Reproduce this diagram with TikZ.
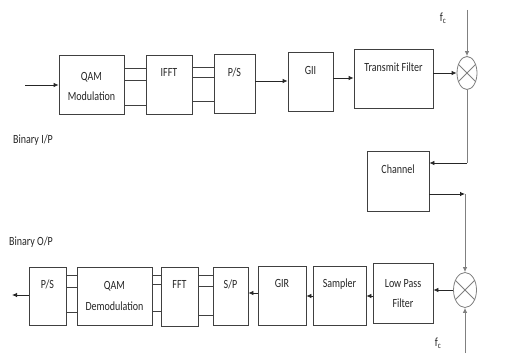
\documentclass[tikz,border=0pt]{standalone}
\usepackage{fontspec}
\setmainfont{Carlito}
\usetikzlibrary{arrows.meta,shapes.geometric}
\newcommand\tx[1]{\scalebox{1}[1.25]{#1}}
\tikzset{
  blk/.style={draw=black!75, line width=0.8pt, inner xsep=0pt, inner ysep=0pt, anchor=north, align=center,
              font=\fontsize{10}{12}\selectfont, text=black!85},
  lbl/.style={inner sep=0pt, font=\fontsize{10}{12}\selectfont, text=black!85},
  arr/.style={-{Latex[length=5pt,width=4.5pt]}, line width=0.8pt, draw=black!85},
  garr/.style={-{Latex[length=5pt,width=4.5pt]}, line width=0.8pt, draw=black!50},
  gline/.style={line width=0.8pt, draw=black!50},
  par/.style={line width=0.8pt, draw=black!75},
  mix/.style={ellipse, draw=black!50, line width=0.8pt, inner sep=0pt}
}
\begin{document}
\begin{tikzpicture}[x=1pt,y=-1pt]
\useasboundingbox (0,0) rectangle (529,353);
% top row
\node[blk, minimum width=65pt, text height=45pt, text depth=14pt] (qam) at (91.5,55) {\tx{QAM}\\[8pt]\tx{Modulation}};
\node[blk, minimum width=46pt, text height=21pt, text depth=38pt] (ifft) at (169,55) {\tx{IFFT}};
\node[blk, minimum width=41pt, text height=22pt, text depth=37pt] (ps1) at (234.5,54) {\tx{P/S}};
\node[blk, minimum width=45pt, text height=22pt, text depth=37pt] (gii) at (310.5,52) {\tx{GII}};
\node[blk, minimum width=79pt, text height=22pt, text depth=37pt] (tf) at (393.5,49) {\tx{Transmit Filter}};
\node[mix, minimum width=20pt, minimum height=33pt] (m1) at (467,73) {};
\draw[gline] (m1.45) -- (m1.225) (m1.135) -- (m1.315);
\node[blk, minimum width=62pt, text height=22pt, text depth=38pt] (ch) at (398,151) {\tx{Channel}};
% bottom row
\node[mix, minimum width=23pt, minimum height=35pt] (m2) at (465,290) {};
\draw[gline] (m2.45) -- (m2.225) (m2.135) -- (m2.315);
\node[blk, minimum width=60pt, text height=44pt, text depth=16pt] (lpf) at (403,263) {\tx{Low Pass}\\[8pt]\tx{Filter}};
\node[blk, minimum width=53pt, text height=21pt, text depth=38pt] (samp) at (339.5,266) {\tx{Sampler}};
\node[blk, minimum width=48pt, text height=21pt, text depth=38pt] (gir) at (282,266) {\tx{GIR}};
\node[blk, minimum width=35pt, text height=21pt, text depth=37pt] (sp) at (230.5,267) {\tx{S/P}};
\node[blk, minimum width=37pt, text height=21pt, text depth=38pt] (fft) at (179.5,267) {\tx{FFT}};
\node[blk, minimum width=75pt, text height=43pt, text depth=15pt] (dem) at (114.5,267) {\tx{QAM}\\[9pt]\tx{Demodulation}};
\node[blk, minimum width=37pt, text height=21pt, text depth=37pt] (ps2) at (47.5,267) {\tx{P/S}};
% labels
\node[lbl] (bin) at (33,140) {\tx{Binary I/P}};
\node[lbl] (bout) at (31,242) {\tx{Binary O/P}};
\node[lbl] (fc1) at (443,18) {\tx{f\textsubscript{c}}};
\node[lbl] (fc2) at (438,343) {\tx{f\textsubscript{c}}};
% coordinates
\coordinate (inp) at (25,85);
\coordinate (outp) at (12,295);
\coordinate (lo1) at (467,10);
\coordinate (lo2) at (465,353);
\coordinate (c1) at (467,163);
\coordinate (c2) at (465,194);
% connectors top
\draw[arr] (inp) -- (inp -| qam.west);
\foreach \y in {68,80,105} \draw[par] (qam.east |- {(0,\y)}) -- (ifft.west |- {(0,\y)});
\foreach \y in {67,77,101} \draw[par] (ifft.east |- {(0,\y)}) -- (ps1.west |- {(0,\y)});
\draw[arr] (ps1.east |- {(0,81)}) -- (gii.west |- {(0,81)});
\draw[arr] (gii.east |- {(0,78)}) -- (tf.west |- {(0,78)});
\draw[arr] (tf.east |- m1.west) -- (m1.west);
\draw[garr] (lo1) -- (m1.north);
\draw[gline] (m1.south) -- (c1);
\draw[arr] (c1) -- (c1 -| ch.east);
\draw[arr] (ch.east |- c2) -- (c2);
\draw[garr] (c2) -- (m2.north);
\draw[garr] (lo2) -- (m2.south);
% connectors bottom
\draw[arr] (m2.west) -- (m2.west -| lpf.east);
\draw[arr] (lpf.west |- {(0,296)}) -- (samp.east |- {(0,296)});
\draw[arr] (samp.west |- {(0,296)}) -- (gir.east |- {(0,296)});
\draw[arr] (gir.west |- {(0,293)}) -- (sp.east |- {(0,293)});
\foreach \y in {275,286,315} \draw[par] (sp.west |- {(0,\y)}) -- (fft.east |- {(0,\y)});
\foreach \y in {275,284,311} \draw[par] (fft.west |- {(0,\y)}) -- (dem.east |- {(0,\y)});
\foreach \y in {275,287,312} \draw[par] (dem.west |- {(0,\y)}) -- (ps2.east |- {(0,\y)});
\draw[arr] (ps2.west |- outp) -- (outp);
\end{tikzpicture}
\end{document}
